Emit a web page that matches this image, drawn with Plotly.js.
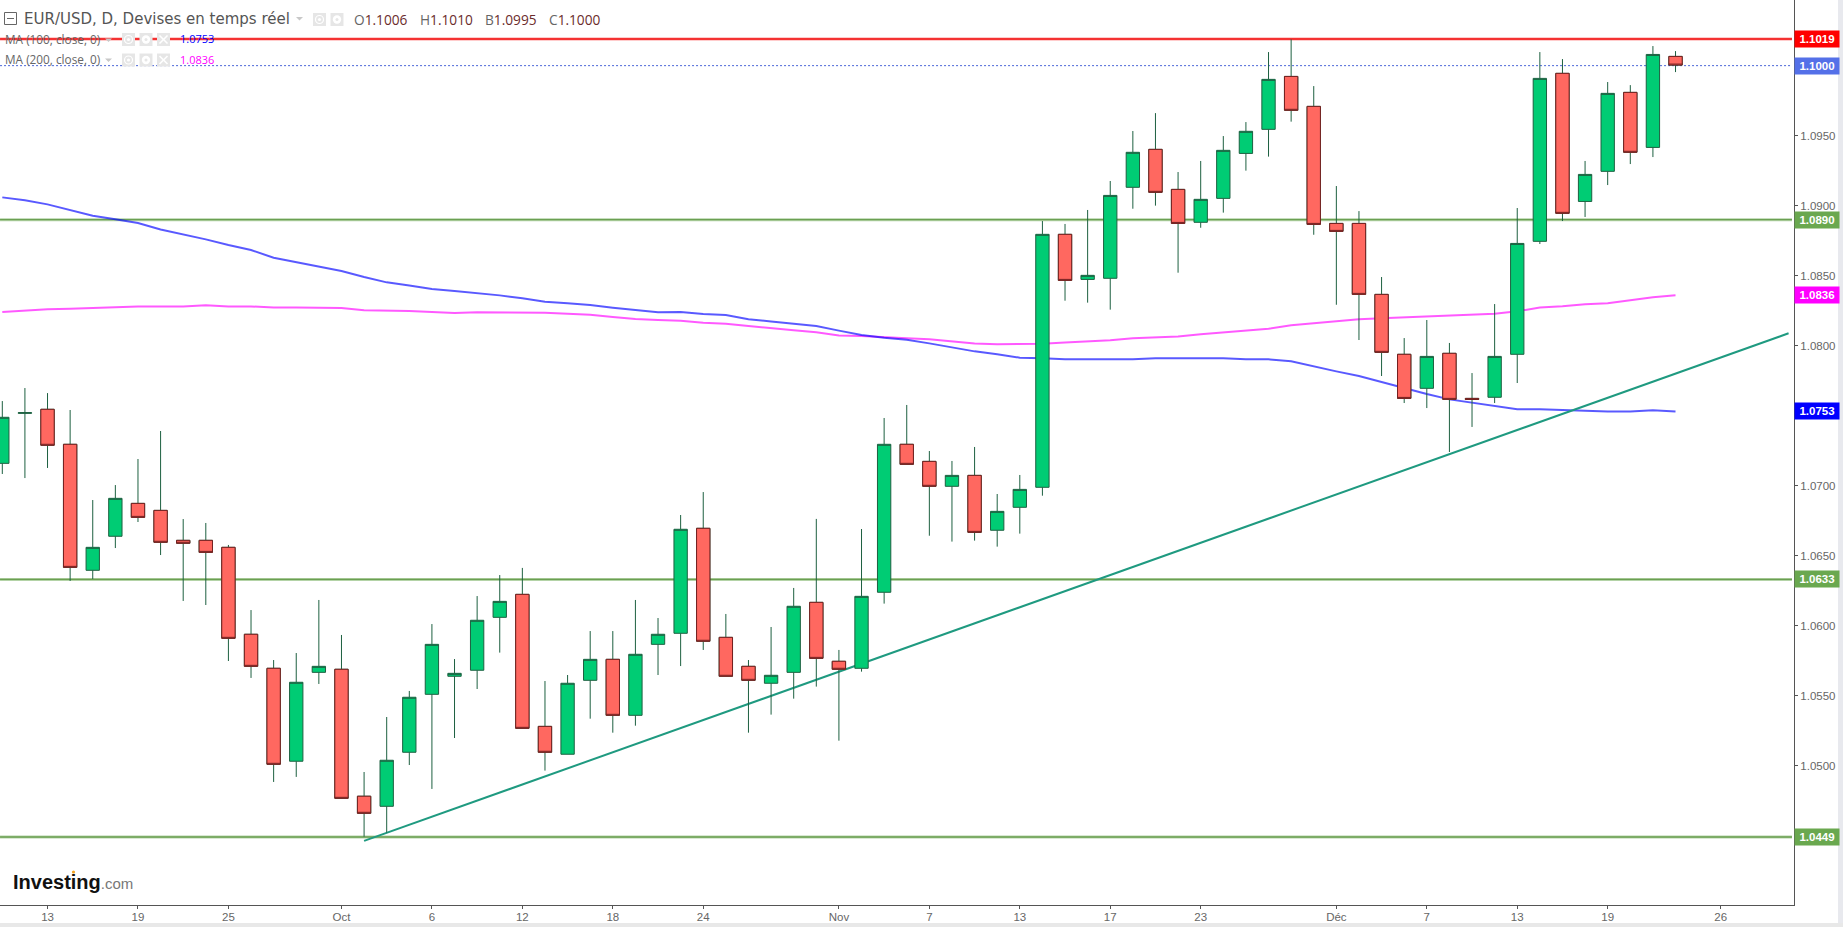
<!DOCTYPE html>
<html>
<head>
<meta charset="utf-8">
<script src="https://cdn.plot.ly/plotly-3.0.1.min.js"></script>
<style>
  html, body { margin: 0; padding: 0; background: #e8e9ee; overflow: hidden; }
  #chart { width: 1843px; height: 927px; }
</style>
</head>
<body>
<div id="chart"></div>
<script>
// EUR/USD daily candles. Index 0 is the leftmost candle.
const opens = [1.07159,1.07516,1.07545,1.07295,1.06395,1.06638,1.06873,1.06823,1.06609,1.06609,1.06559,1.05938,1.05695,1.05031,1.05666,1.05688,1.04781,1.04709,1.05095,1.05509,1.05638,1.05681,1.06059,1.06223,1.05280,1.05081,1.05609,1.05759,1.05359,1.05866,1.05945,1.06695,1.05916,1.05709,1.05588,1.05666,1.06166,1.05745,1.05695,1.06238,1.07295,1.07173,1.06995,1.07073,1.06681,1.06845,1.06988,1.08795,1.08473,1.08481,1.09131,1.09402,1.09116,1.08881,1.09052,1.09373,1.09545,1.09923,1.09709,1.08873,1.08873,1.08366,1.07938,1.07695,1.07945,1.07623,1.07631,1.07938,1.08745,1.09945,1.09030,1.09245,1.09809,1.09416,1.10066];
const highs = [1.07604,1.07697,1.07661,1.07540,1.06897,1.07004,1.07190,1.07390,1.06761,1.06733,1.06576,1.06111,1.05754,1.05804,1.06183,1.05933,1.04954,1.05347,1.05533,1.06011,1.05761,1.06211,1.06361,1.06412,1.05604,1.05647,1.05961,1.05961,1.06183,1.06054,1.06790,1.06954,1.06083,1.05754,1.05990,1.06269,1.06762,1.05826,1.06690,1.07483,1.07576,1.07247,1.07176,1.07276,1.06940,1.07076,1.08890,1.08869,1.08969,1.09176,1.09533,1.09661,1.09240,1.09319,1.09497,1.09597,1.10097,1.10188,1.09854,1.09140,1.08961,1.08490,1.08054,1.08183,1.08019,1.07804,1.08297,1.08983,1.10097,1.10047,1.09319,1.09883,1.09861,1.10140,1.10104];
const lows = [1.07083,1.07054,1.07126,1.06319,1.06333,1.06554,1.06740,1.06504,1.06176,1.06147,1.05747,1.05626,1.04883,1.04919,1.05583,1.04766,1.04492,1.04521,1.05004,1.04833,1.05197,1.05547,1.05807,1.05266,1.04964,1.05081,1.05335,1.05235,1.05285,1.05647,1.05711,1.05826,1.05638,1.05235,1.05364,1.05478,1.05564,1.05178,1.05671,1.06157,1.07152,1.06642,1.06600,1.06607,1.06564,1.06657,1.06928,1.08321,1.08307,1.08257,1.08978,1.09000,1.08521,1.08842,1.08950,1.09250,1.09350,1.09600,1.08792,1.08292,1.08040,1.07783,1.07590,1.07554,1.07240,1.07419,1.07590,1.07733,1.08726,1.08890,1.08919,1.09147,1.09297,1.09347,1.09954];
const closes = [1.07488,1.07521,1.07288,1.06416,1.06559,1.06909,1.06773,1.06595,1.06588,1.06523,1.05909,1.05709,1.05009,1.05595,1.05709,1.04766,1.04659,1.05038,1.05488,1.05866,1.05659,1.06038,1.06173,1.05266,1.05095,1.05588,1.05759,1.05359,1.05795,1.05938,1.06688,1.05888,1.05638,1.05609,1.05645,1.06138,1.05766,1.05688,1.06209,1.07295,1.07152,1.06995,1.07073,1.06666,1.06816,1.06973,1.08795,1.08466,1.08502,1.09073,1.09381,1.09095,1.08873,1.09045,1.09395,1.09531,1.09902,1.09681,1.08866,1.08816,1.08366,1.07952,1.07623,1.07923,1.07616,1.07616,1.07923,1.08730,1.09909,1.08945,1.09223,1.09802,1.09381,1.10080,1.10004];

const ma100 = [1.09059,1.09038,1.09009,1.08966,1.08928,1.08902,1.08876,1.08830,1.08797,1.08759,1.08719,1.08683,1.08628,1.08595,1.08566,1.08533,1.08490,1.08452,1.08430,1.08404,1.08390,1.08376,1.08359,1.08338,1.08314,1.08302,1.08290,1.08271,1.08252,1.08238,1.08240,1.08226,1.08219,1.08188,1.08173,1.08159,1.08140,1.08107,1.08076,1.08057,1.08042,1.08016,1.07988,1.07959,1.07938,1.07914,1.07909,1.07902,1.07902,1.07902,1.07902,1.07909,1.07909,1.07909,1.07909,1.07902,1.07902,1.07888,1.07850,1.07816,1.07783,1.07740,1.07695,1.07654,1.07616,1.07592,1.07564,1.07545,1.07545,1.07540,1.07530,1.07530,1.07530,1.07538,1.07530];
const ma200 = [1.08240,1.08252,1.08259,1.08264,1.08271,1.08278,1.08280,1.08280,1.08280,1.08288,1.08280,1.08280,1.08273,1.08273,1.08273,1.08268,1.08252,1.08252,1.08247,1.08240,1.08233,1.08238,1.08238,1.08240,1.08235,1.08228,1.08221,1.08204,1.08190,1.08183,1.08178,1.08164,1.08157,1.08140,1.08123,1.08109,1.08095,1.08073,1.08069,1.08059,1.08052,1.08045,1.08031,1.08016,1.08009,1.08009,1.08014,1.08023,1.08031,1.08038,1.08052,1.08059,1.08066,1.08081,1.08095,1.08107,1.08121,1.08145,1.08159,1.08176,1.08188,1.08195,1.08202,1.08209,1.08214,1.08219,1.08228,1.08245,1.08273,1.08281,1.08295,1.08302,1.08323,1.08345,1.08359];

const trendX = [16, 79];
const trendY = [1.04462, 1.08088];

const supportLevels = [1.0890, 1.0633, 1.0449];
const resistance = 1.1019;
const lastPrice = 1.1000;

const xTickVals = [2, 6, 10, 15, 19, 23, 27, 31, 37, 41, 45, 49, 53, 59, 63, 67, 71, 76];
const xTickText = ['13', '19', '25', 'Oct', '6', '12', '18', '24', 'Nov', '7', '13', '17', '23', 'Déc', '7', '13', '19', '26'];
// the 1.0450, 1.0750 and 1.1000 labels sit behind the coloured price tags
const yTickVals = [1.05, 1.055, 1.06, 1.065, 1.07, 1.08, 1.085, 1.09, 1.095];

const priceTags = [
  { v: 1.1019, text: '1.1019', color: '#ff0000' },
  { v: 1.1000, text: '1.1000', color: '#5470e8' },
  { v: 1.0890, text: '1.0890', color: '#6aa84f' },
  { v: 1.0836, text: '1.0836', color: '#ff00ff' },
  { v: 1.0753, text: '1.0753', color: '#0000ff' },
  { v: 1.0633, text: '1.0633', color: '#6aa84f' },
  { v: 1.0449, text: '1.0449', color: '#6aa84f' }
];

const ohlcItems = [['O', '1.1006', 353], ['H', '1.1010', 419], ['B', '1.0995', 484], ['C', '1.1000', 548]];

const PLOT_W = 1794, PLOT_H = 905;
const xRange = [-0.1017, 79.24];
const yRange = [1.04004, 1.10469];
const px = v => v / PLOT_W;
const py = v => 1 - v / PLOT_H;

const idx = opens.map((_, i) => i);
const isDown = idx.filter(i => closes[i] < opens[i]);

function lineTrace(x, y, color, width, dash) {
  return {
    x, y, type: 'scatter', mode: 'lines', hoverinfo: 'skip', showlegend: false,
    line: { color, width, dash: dash || 'solid' }
  };
}

const levelEnds = [-0.1, 79.15];
const traces = [];
supportLevels.forEach(v => {
  traces.push(lineTrace(levelEnds, [v, v], 'rgba(106,168,79,0.5)', 3));
  traces.push(lineTrace(levelEnds, [v, v], '#6b9f52', 1.4));
});
traces.push(lineTrace(levelEnds, [resistance, resistance], 'rgba(255,0,0,0.4)', 3));
traces.push(lineTrace(levelEnds, [resistance, resistance], '#f01010', 1.4));
traces.push(lineTrace(levelEnds, [lastPrice, lastPrice], '#4a66d8', 1, '2px,2px'));
traces.push(lineTrace(idx, ma200, 'rgba(255,0,255,0.65)', 2));
traces.push(lineTrace(idx, ma100, 'rgba(0,0,255,0.65)', 2));
traces.push(lineTrace(trendX, trendY, '#1f9a80', 2));

// wicks and green bodies, all outlined dark green
traces.push({
  type: 'candlestick', xaxis: 'x2', yaxis: 'y2', x: idx,
  open: opens, high: highs, low: lows, close: closes,
  whiskerwidth: 0, hoverinfo: 'skip', showlegend: false,
  increasing: { line: { color: '#1d6040', width: 1 }, fillcolor: '#00cc74' },
  decreasing: { line: { color: '#1d6040', width: 1 }, fillcolor: '#ff6860' }
});
// red bodies again on top, they have a dark red outline but keep the green wicks
traces.push({
  type: 'candlestick', xaxis: 'x2', yaxis: 'y2', x: isDown,
  open: isDown.map(i => opens[i]), close: isDown.map(i => closes[i]),
  high: isDown.map(i => opens[i]), low: isDown.map(i => closes[i]),
  whiskerwidth: 0, hoverinfo: 'skip', showlegend: false,
  increasing: { line: { color: '#742020', width: 1 }, fillcolor: '#ff6860' },
  decreasing: { line: { color: '#742020', width: 1 }, fillcolor: '#ff6860' }
});

const annotations = [];
const shapes = [];

const TITLE_FONT = '"DejaVu Sans", sans-serif';
const ROW_FONT = '"Open Sans", sans-serif';
const AXIS_FONT = '"Liberation Sans", Arial, sans-serif';

function label(text, x, y, size, color, family) {
  annotations.push({
    xref: 'paper', yref: 'paper', x: px(x), y: py(y), text, showarrow: false,
    xanchor: 'left', yanchor: 'middle', borderpad: 0,
    font: { size, color, family: family || ROW_FONT }
  });
}

function box(x0, y0, x1, y1, fill, stroke) {
  shapes.push({
    type: 'rect', xref: 'paper', yref: 'paper', x0: px(x0), x1: px(x1), y0: py(y0), y1: py(y1),
    fillcolor: fill, line: { color: stroke || fill, width: stroke ? 1 : 0 }
  });
}
function circle(cx, cy, r, fill, stroke) {
  shapes.push({
    type: 'circle', xref: 'paper', yref: 'paper', x0: px(cx - r), x1: px(cx + r), y0: py(cy - r), y1: py(cy + r),
    fillcolor: fill, line: { color: stroke || fill, width: stroke ? 1.2 : 0 }
  });
}
function seg(x0, y0, x1, y1, color, width) {
  shapes.push({
    type: 'line', xref: 'paper', yref: 'paper', x0: px(x0), x1: px(x1), y0: py(y0), y1: py(y1),
    line: { color, width }
  });
}
function caret(x, y) {
  shapes.push({
    type: 'path', xref: 'paper', yref: 'paper', fillcolor: '#c8c8c8', line: { width: 0 },
    path: `M${px(x)},${py(y)} L${px(x + 7)},${py(y)} L${px(x + 3.5)},${py(y + 3.5)} Z`
  });
}
const ICON_BG = '#e6e6e6';
function eyeIcon(x, y) {
  box(x, y, x + 13, y + 13, ICON_BG);
  circle(x + 6.5, y + 6.5, 4, 'rgba(0,0,0,0)', '#fff');
  circle(x + 6.5, y + 6.5, 1.6, '#fff');
}
function gearIcon(x, y) {
  box(x, y, x + 13, y + 13, ICON_BG);
  circle(x + 6.5, y + 6.5, 4.2, '#fff');
  circle(x + 6.5, y + 6.5, 1.5, ICON_BG);
}
function crossIcon(x, y) {
  box(x, y, x + 13, y + 13, ICON_BG);
  seg(x + 2.5, y + 2.5, x + 10.5, y + 10.5, '#fff', 1.6);
  seg(x + 10.5, y + 2.5, x + 2.5, y + 10.5, '#fff', 1.6);
}

// grey page strips on the right and at the bottom
box(1838, 0, 1843, 927, '#e8e9ee');
box(0, 923, 1843, 927, '#e8e8e8');

// header rows
box(4.5, 12.5, 16.5, 24.5, '#fff', '#666');
seg(7, 18.5, 14, 18.5, '#666', 1);
label('EUR/USD, D, Devises en temps réel', 23, 19, 15, '#555', TITLE_FONT);
caret(296, 17);
eyeIcon(313, 13); gearIcon(330.5, 13);
ohlcItems.forEach(([letter, value, x]) => {
  label(`${letter}<span style="color:#6b2c2c">${value}</span>`, x, 19, 13.7, '#666');
});

label('MA (100, close, 0)', 4, 39, 11.8, '#666');
caret(105, 38.5);
eyeIcon(122, 33); gearIcon(139.5, 33); crossIcon(157, 33);
label('1.0753', 179, 39, 11, '#0000ff');

label('MA (200, close, 0)', 4, 59, 11.8, '#666');
caret(105, 58.5);
eyeIcon(122, 53.5); gearIcon(139.5, 53.5); crossIcon(157, 53.5);
label('1.0836', 179, 59, 11, '#ff00ff');

// logo
label('<b>Investing</b><span style="color:#777;font-size:15px">.com</span>', 12, 882, 20, '#111', AXIS_FONT);
circle(73.5, 872, 1.6, '#f5a623');

// price tags on the axis
priceTags.forEach(t => {
  annotations.push({
    xref: 'paper', yref: 'y', x: 1, y: t.v, xanchor: 'left', yanchor: 'middle',
    text: `<b>${t.text}</b>`, showarrow: false, width: 44, height: 15.5, align: 'center', valign: 'middle',
    bgcolor: t.color, borderpad: 0, font: { size: 11.5, color: '#fff', family: AXIS_FONT }
  });
});

const tickFont = { size: 11.5, color: '#666', family: AXIS_FONT };

const layout = {
  width: 1843, height: 927,
  margin: { l: 0, r: 49, t: 0, b: 22, pad: 0 },
  paper_bgcolor: '#fff', plot_bgcolor: '#fff',
  showlegend: false, hovermode: false, boxmode: 'overlay', boxgap: 0.41, boxgroupgap: 0,
  xaxis: {
    range: xRange, showgrid: false, zeroline: false, showline: true, linecolor: '#555', linewidth: 1,
    ticks: 'outside', ticklen: 3, tickcolor: '#555', tickmode: 'array',
    tickvals: xTickVals, ticktext: xTickText, tickfont: tickFont, ticklabelstandoff: -2
  },
  yaxis: {
    range: yRange, side: 'right', showgrid: false, zeroline: false, showline: true, linecolor: '#555', linewidth: 1,
    ticks: 'outside', ticklen: 3, tickcolor: '#555', tickmode: 'array', tickvals: yTickVals,
    tickformat: '.4f', tickfont: tickFont
  },
  xaxis2: { overlaying: 'x', range: xRange, visible: false, rangeslider: { visible: false } },
  yaxis2: { overlaying: 'y', range: yRange, visible: false, side: 'right' },
  shapes, annotations
};

Plotly.newPlot('chart', traces, layout, { displayModeBar: false, staticPlot: true });
</script>
</body>
</html>
